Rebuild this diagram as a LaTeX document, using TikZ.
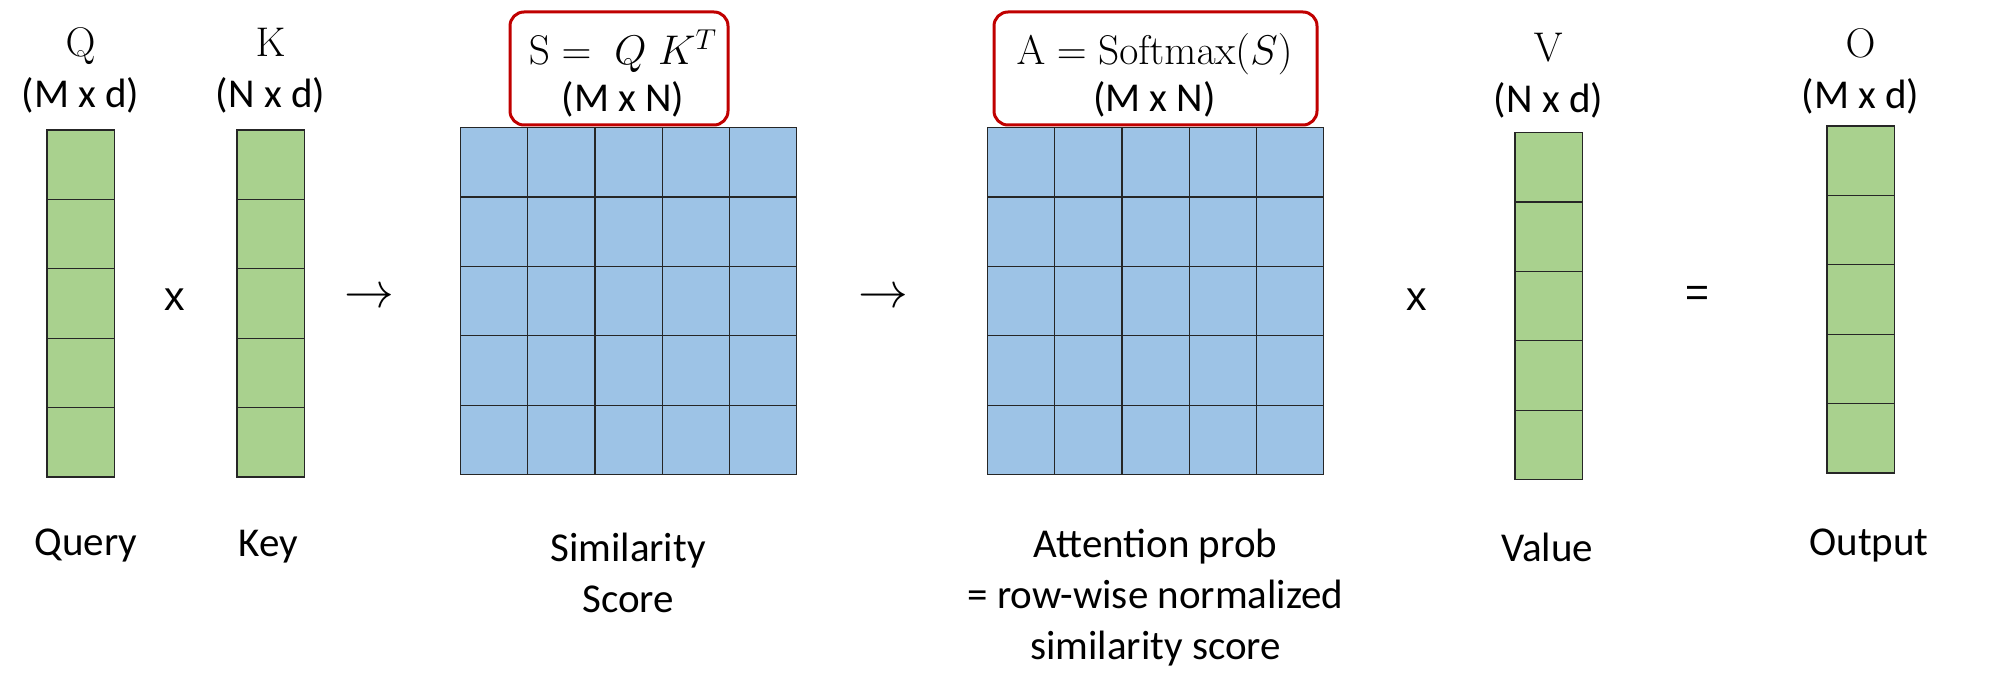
\documentclass[tikz,border=0pt]{standalone}
\usepackage[no-math]{fontspec}
\setmainfont{Carlito}
\newfontfamily\arialfont{Liberation Sans}
\usetikzlibrary{matrix,positioning}
\definecolor{vecgreen}{HTML}{A9D18E}
\definecolor{matblue}{HTML}{9DC3E6}
\definecolor{boxred}{HTML}{C00000}
\tikzset{
	cell/.style={draw=black!85,line width=0.6pt,minimum width=33.6pt,minimum height=34.7pt,inner sep=0pt,outer sep=0pt},
	vecmat/.style={matrix of nodes,nodes in empty cells,row sep=-0.6pt,column sep=-0.6pt,nodes={cell,fill=vecgreen}},
	scoremat/.style={matrix of nodes,nodes in empty cells,row sep=-0.6pt,column sep=-0.6pt,nodes={cell,fill=matblue}},
	lab/.style={font=\fontsize{20.5}{25.5}\selectfont,align=center,inner sep=0pt},
	formbox/.style={draw=boxred,line width=1.5pt,rounded corners=7pt,minimum height=56.5pt,inner sep=0pt},
	boxtext/.style={font=\fontsize{20.5}{24.5}\selectfont,inner sep=0pt,anchor=base},
	op/.style={font=\arialfont\fontsize{20.5}{25}\selectfont,inner sep=0pt},
	arr/.style={font=\fontsize{24}{25}\selectfont,inner sep=0pt}
}
\begin{document}
\begin{tikzpicture}[x=0.5pt,y=-0.5pt]
		\useasboundingbox (0,0) rectangle (2013,684);
		% the five columns / grids
		\matrix (q) [vecmat] at (80.5,303.5) {\\ \\ \\ \\ \\};
		\matrix (k) [vecmat] at (270.5,303.5) {\\ \\ \\ \\ \\};
		\matrix (s) [scoremat] at (628.5,301) {&&&&\\ &&&&\\ &&&&\\ &&&&\\ &&&&\\};
		\matrix (a) [scoremat] at (1155.5,301) {&&&&\\ &&&&\\ &&&&\\ &&&&\\ &&&&\\};
		\matrix (v) [vecmat] at (1548.5,306) {\\ \\ \\ \\ \\};
		\matrix (o) [vecmat] at (1860.5,299.5) {\\ \\ \\ \\ \\};
		% headers
		\node[lab] (qtop) at (80.5,71) {$\mathrm{Q}$\\(M x d)};
		\node[lab] (ktop) at (270.5,71) {$\mathrm{K}$\\(N x d)};
		\node[lab] (vtop) at (1548.5,76) {$\mathrm{V}$\\(N x d)};
		\node[lab] (otop) at (1860.5,72) {$\mathrm{O}$\\(M x d)};
		\node[formbox,minimum width=109pt] (sbox) at (619,68.5) {};
		\node[boxtext] (sform) at (623,65) {$\mathrm{S} =\; Q\;K^{T}$};
		\node[boxtext] (ssize) at (623,112) {(M x N)};
		\node[formbox,minimum width=161.5pt] (abox) at (1155.5,68.5) {};
		\node[boxtext] (aform) at (1154.5,65) {$\mathrm{A} = \mathrm{Softmax}(S)$};
		\node[boxtext] (asize) at (1154.5,112) {(M x N)};
		% operators
		\node[op] (times1) at (174.5,300) {x};
		\node[arr] (arr1) at (369.5,298) {$\rightarrow$};
		\node[arr] (arr2) at (883,298) {$\rightarrow$};
		\node[op] (times2) at (1417,300) {x};
		\node[op] (equals) at (1697,296) {=};
		% names below
		\node[lab] (qname) at (86,545) {Query};
		\node[lab] (kname) at (268.5,547) {Key};
		\node[lab] (sname) at (628,573) {Similarity\\Score};
		\node[lab] (aname) at (1155.5,598) {Attention prob\\= row-wise normalized\\similarity score};
		\node[lab] (vname) at (1547,547) {Value};
		\node[lab] (oname) at (1869,545) {Output};
	\end{tikzpicture}
\end{document}
